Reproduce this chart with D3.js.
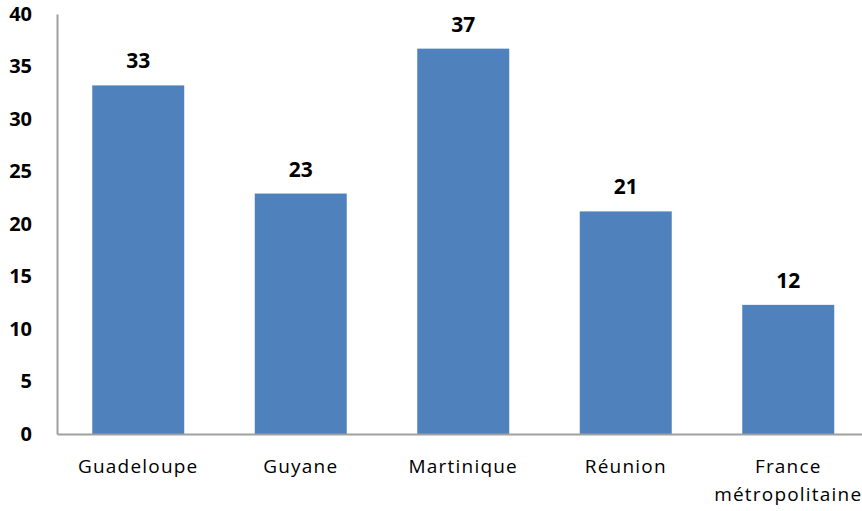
<!DOCTYPE html>
<html>
<head>
<meta charset="utf-8">
<script src="https://cdn.jsdelivr.net/npm/d3@7"></script>
<style>
 body { margin: 0; background: #fff; }
 svg { display: block; font-family: "Open Sans", "Noto Sans", sans-serif; }
</style>
</head>
<body>
<div id="chart"></div>
<script>
const categories = ["Guadeloupe", "Guyane", "Martinique", "Réunion", "France métropolitaine"];
const values = [33.2, 22.9, 36.7, 21.2, 12.3];
const valueLabels = ["33", "23", "37", "21", "12"];
const yTicks = [0, 5, 10, 15, 20, 25, 30, 35, 40];

(function () {
 const width = 862;
 const height = 511;
 const margin = { top: 14, left: 57, bottom: 77 };

 const data = categories.map((c, i) => ({ name: c, value: values[i], label: valueLabels[i] }));

 const svg = d3
  .select("#chart")
  .append("svg")
  .attr("width", width)
  .attr("height", height);

 const x = d3
  .scaleBand()
  .domain(categories)
  .range([margin.left, margin.left + 812.5])
  .paddingInner(0.434)
  .paddingOuter(0.217);

 const y = d3
  .scaleLinear()
  .domain([0, 40])
  .range([height - margin.bottom, margin.top]);

 // bars
 svg
  .selectAll(".bar")
  .data(data)
  .enter()
  .append("rect")
  .attr("class", "bar")
  .attr("x", (d) => x(d.name))
  .attr("y", (d) => y(d.value))
  .attr("width", x.bandwidth())
  .attr("height", (d) => y(0) - y(d.value))
  .style("fill", "#4f81bd");

 // value labels
 svg
  .selectAll(".val")
  .data(data)
  .enter()
  .append("text")
  .attr("class", "val")
  .attr("x", (d) => x(d.name) + x.bandwidth() / 2)
  .attr("y", (d) => y(d.value) - 17)
  .attr("text-anchor", "middle")
  .style("font-size", "21px")
  .style("font-weight", "bold")
  .text((d) => d.label);

 // y axis
 const yAxis = svg
  .append("g")
  .attr("transform", `translate(${margin.left},0)`)
  .call(d3.axisLeft(y).tickValues(yTicks).tickSize(0).tickPadding(25));
 yAxis.select(".domain").attr("stroke", "#a0a0a0").attr("stroke-width", 2);
 yAxis
  .selectAll("text")
  .style("font-size", "20px")
  .style("font-weight", "bold")
  .style("font-family", "'Open Sans', sans-serif")
  .attr("fill", "#000");

 // x axis
 const xAxis = svg
  .append("g")
  .attr("transform", `translate(0,${y(0)})`)
  .call(d3.axisBottom(x).tickSize(0).tickPadding(26));
 xAxis.select(".domain").attr("stroke", "#a0a0a0").attr("stroke-width", 2);
 xAxis
  .selectAll("text")
  .style("font-size", "19px")
  .style("letter-spacing", "1.2px")
  .style("font-family", "'Open Sans', sans-serif")
  .attr("fill", "#000")
  .each(function (d) {
   const t = d3.select(this);
   if (d === "France métropolitaine") {
    t.text(null);
    t.append("tspan").attr("x", 0).attr("dy", "0.71em").text("France");
    t.append("tspan").attr("x", 0).attr("dy", "1.47em").text("métropolitaine");
   }
  });
})();
</script>
</body>
</html>
